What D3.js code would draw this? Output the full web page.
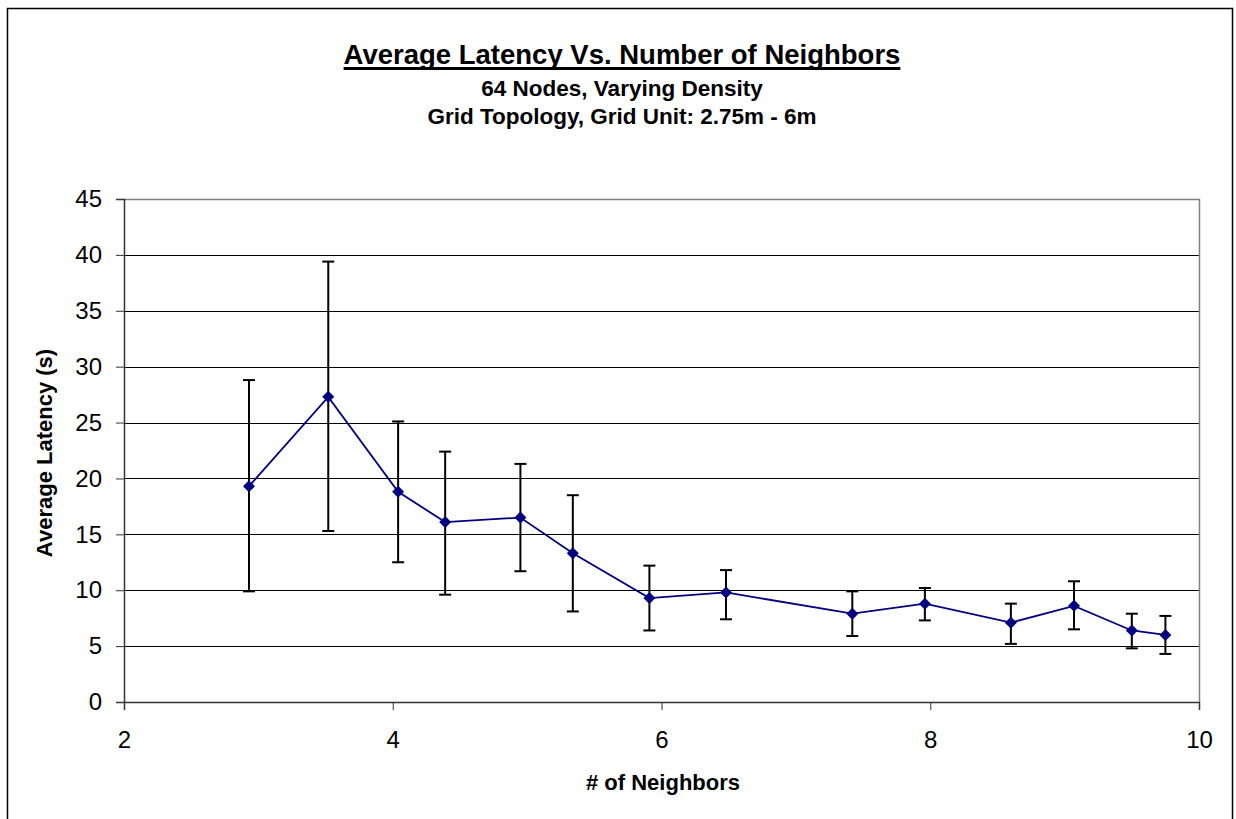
<!DOCTYPE html>
<html>
<head>
<meta charset="utf-8">
<script src="https://cdn.jsdelivr.net/npm/d3@7"></script>
<style>
  body { margin: 0; background: #fff; }
  svg { display: block; font-family: "Liberation Sans", Arial, sans-serif; }
</style>
</head>
<body>
<div id="chart"></div>
<script>
// --------------------------------------------------------
// DATA
// --------------------------------------------------------
const neighbors = [2.93, 3.52, 4.04, 4.39, 4.95, 5.34, 5.91, 6.48, 7.42, 7.96, 8.60, 9.07, 9.50, 9.75];
const latency   = [19.3, 27.3, 18.8, 16.1, 16.5, 13.3, 9.3, 9.8, 7.9, 8.8, 7.1, 8.6, 6.4, 6.0];
const errLow    = [9.9, 15.3, 12.5, 9.6, 11.7, 8.1, 6.4, 7.4, 5.9, 7.3, 5.2, 6.5, 4.8, 4.3];
const errHigh   = [28.8, 39.4, 25.1, 22.4, 21.3, 18.5, 12.2, 11.8, 9.9, 10.2, 8.8, 10.8, 7.9, 7.7];

const xTicks = [2, 4, 6, 8, 10];
const yTicks = [0, 5, 10, 15, 20, 25, 30, 35, 40, 45];

const titleText = "Average Latency Vs. Number of Neighbors";
const subtitles = ["64 Nodes, Varying Density", "Grid Topology, Grid Unit: 2.75m - 6m"];
const xTitle = "# of Neighbors";
const yTitle = "Average Latency (s)";

// --------------------------------------------------------
// LAYOUT
// --------------------------------------------------------
const width = 1236;
const height = 819;
const plot = { left: 124, right: 1199, top: 199, bottom: 702 };
const lineColor = "#000080";

const svg = d3.select("#chart")
  .append("svg")
  .attr("width", width)
  .attr("height", height);

// outer chart frame (bottom edge runs off the picture)
svg.append("rect")
  .attr("x", 7.5).attr("y", 8.5)
  .attr("width", 1225).attr("height", 840)
  .attr("fill", "#fff")
  .attr("stroke", "#000")
  .attr("stroke-width", 1.5);

const x = d3.scaleLinear().domain([2, 10]).range([plot.left, plot.right]);
const y = d3.scaleLinear().domain([0, 45]).range([plot.bottom, plot.top]);

// --------------------------------------------------------
// TITLES
// --------------------------------------------------------
const title = svg.append("text")
  .attr("x", 622).attr("y", 64)
  .attr("text-anchor", "middle")
  .attr("font-size", 27.5)
  .attr("font-weight", "bold")
  .text(titleText);

const tb = title.node().getBBox();
svg.append("rect")
  .attr("x", tb.x).attr("y", 67)
  .attr("width", tb.width).attr("height", 3)
  .attr("fill", "#000");

svg.selectAll(".subtitle")
  .data(subtitles)
  .join("text")
  .attr("class", "subtitle")
  .attr("x", 622)
  .attr("y", (d, i) => 96 + i * 28)
  .attr("text-anchor", "middle")
  .attr("font-size", 22.5)
  .attr("font-weight", "bold")
  .text((d) => d);

// --------------------------------------------------------
// GRID + AXES
// --------------------------------------------------------
svg.append("g")
  .selectAll("line")
  .data(yTicks.filter((d) => d > 0 && d < 45))
  .join("line")
  .attr("x1", plot.left).attr("x2", plot.right)
  .attr("y1", (d) => Math.round(y(d)) + 0.5)
  .attr("y2", (d) => Math.round(y(d)) + 0.5)
  .attr("stroke", "#000")
  .attr("stroke-width", 1);

// grey plot border on top and right
svg.append("path")
  .attr("d", `M${plot.left},${plot.top + 0.5}H${plot.right + 0.5}V${plot.bottom}`)
  .attr("fill", "none")
  .attr("stroke", "#808080")
  .attr("stroke-width", 1.5);

const yAxis = svg.append("g")
  .attr("transform", `translate(${plot.left},0)`)
  .call(d3.axisLeft(y).tickValues(yTicks).tickSize(8).tickPadding(14).tickFormat(d3.format("d")));

const xAxis = svg.append("g")
  .attr("transform", `translate(0,${plot.bottom})`)
  .call(d3.axisBottom(x).tickValues(xTicks).tickSize(8).tickPadding(21).tickFormat(d3.format("d")));

[yAxis, xAxis].forEach((ax) => {
  ax.select(".domain").attr("stroke", "#333").attr("stroke-width", 1.5);
  ax.selectAll(".tick line").attr("stroke", "#333").attr("stroke-width", 1);
  ax.selectAll(".tick text")
    .attr("fill", "#000")
    .attr("font-size", 24)
    .attr("font-family", "Liberation Sans, Arial, sans-serif");
});

svg.append("text")
  .attr("x", 663).attr("y", 790)
  .attr("text-anchor", "middle")
  .attr("font-size", 22)
  .attr("font-weight", "bold")
  .text(xTitle);

svg.append("text")
  .attr("transform", "translate(52,453) rotate(-90)")
  .attr("text-anchor", "middle")
  .attr("font-size", 22)
  .attr("font-weight", "bold")
  .text(yTitle);

// --------------------------------------------------------
// SERIES
// --------------------------------------------------------
const rows = neighbors.map((n, i) => ({ n, v: latency[i], lo: errLow[i], hi: errHigh[i] }));

svg.append("path")
  .datum(rows)
  .attr("fill", "none")
  .attr("stroke", lineColor)
  .attr("stroke-width", 1.8)
  .attr("d", d3.line().x((d) => x(d.n)).y((d) => y(d.v)));

const bars = svg.append("g")
  .attr("stroke", "#000")
  .attr("stroke-width", 2)
  .selectAll("g")
  .data(rows)
  .join("g");

bars.append("line")
  .attr("x1", (d) => x(d.n)).attr("x2", (d) => x(d.n))
  .attr("y1", (d) => y(d.lo)).attr("y2", (d) => y(d.hi));

bars.selectAll(".cap")
  .data((d) => [{ n: d.n, e: d.lo }, { n: d.n, e: d.hi }])
  .join("line")
  .attr("class", "cap")
  .attr("x1", (d) => x(d.n) - 6).attr("x2", (d) => x(d.n) + 6)
  .attr("y1", (d) => y(d.e)).attr("y2", (d) => y(d.e));

svg.append("g")
  .selectAll("path")
  .data(rows)
  .join("path")
  .attr("transform", (d) => `translate(${x(d.n)},${y(d.v)})`)
  .attr("d", "M0,-6L6,0L0,6L-6,0Z")
  .attr("fill", lineColor);
</script>
</body>
</html>
